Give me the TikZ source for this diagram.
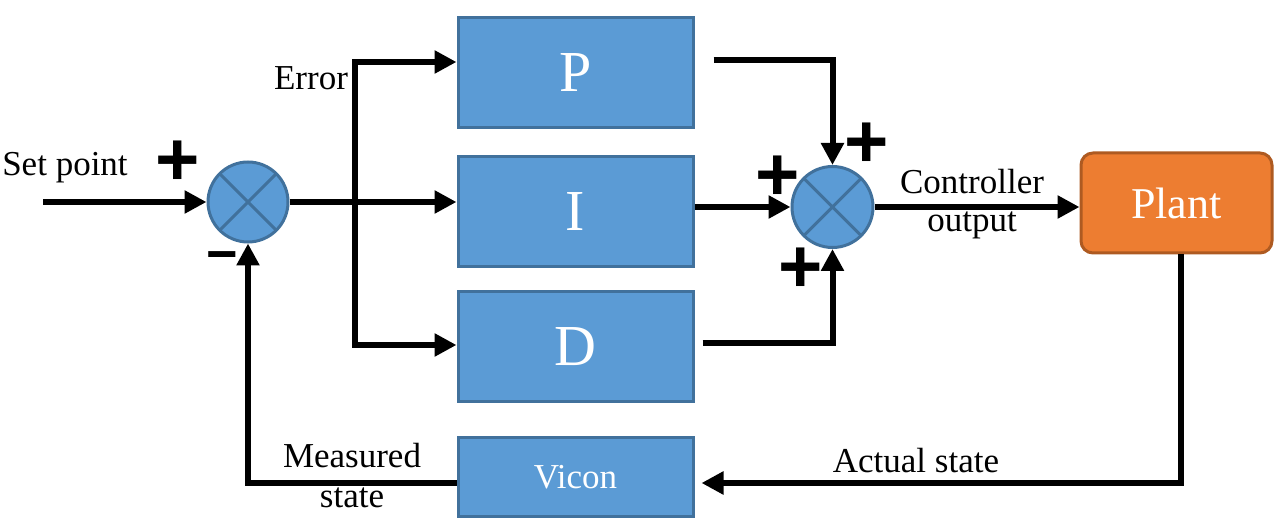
\documentclass[tikz,border=0pt]{standalone}
\usepackage{fontspec}
\setmainfont{Liberation Serif}
\newfontfamily\signfont{Liberation Sans}
\usetikzlibrary{arrows.meta,positioning}
\definecolor{boxblue}{HTML}{5B9BD5}
\definecolor{boxedge}{HTML}{41719C}
\definecolor{plantorange}{HTML}{ED7D31}
\definecolor{plantedge}{HTML}{AE5A21}
\newcommand{\lblfont}{\fontsize{17.5}{21}\selectfont}
\newcommand{\pidfont}{\fontsize{29}{32}\selectfont}

\begin{document}
\begin{tikzpicture}[x=0.5pt,y=-0.5pt,
    blk/.style={draw=boxedge,fill=boxblue,line width=1.5pt,text=white,inner sep=0pt,
        minimum width=117.5pt,minimum height=55pt},
    sumjn/.style={circle,draw=boxedge,fill=boxblue,line width=1.5pt,inner sep=0pt,minimum size=40pt,
        path picture={\draw[boxedge,line width=1.5pt]
            (path picture bounding box.north west)--(path picture bounding box.south east)
            (path picture bounding box.north east)--(path picture bounding box.south west);}},
    wire/.style={line width=3pt,-{Triangle[length=11pt,width=11pt]}},
    lbl/.style={font=\lblfont,inner sep=0pt},
    sign/.style={font=\signfont\bfseries\fontsize{38}{38}\selectfont,inner sep=0pt}]
    \useasboundingbox (0,0) rectangle (1286,529);
    % blocks
    \node[blk,font=\pidfont] (P) at (575.5,73) {P};
    \node[blk,font=\pidfont] (I) at (575.5,212) {I};
    \node[blk,font=\pidfont] (D) at (575.5,347) {D};
    \node[blk,font=\lblfont,minimum height=39.5pt] (vicon) at (575.5,477) {Vicon};
    \node[draw=plantedge,fill=plantorange,line width=1.5pt,rounded corners=6pt,text=white,
        minimum width=95.5pt,minimum height=50pt,font=\fontsize{22}{26}\selectfont] (plant) at (1176.5,203) {Plant};
    \node[sumjn] (s1) at (248,202) {};
    \node[sumjn,minimum size=40.5pt] (s2) at (832.5,207) {};
    \coordinate (sp) at (43,202);
    \coordinate (br) at (355,202);
    % signals
    \draw[wire] (sp) -- (s1.west);
    \draw[wire] (s1.east) -- (s1 -| I.west);
    \draw[wire] (br) |- ([yshift=5.5pt]P.west);
    \draw[wire] (br) |- ([yshift=1pt]D.west);
    \draw[wire] ([xshift=9.5pt,yshift=6.5pt]P.east) -| (s2.north);
    \draw[wire] (I.east |- s2) -- (s2.west);
    \draw[wire] ([xshift=4pt,yshift=2pt]D.east) -| (s2.south);
    \draw[wire] (s2.east) -- (s2 -| plant.west);
    \draw[wire] ([xshift=2pt]plant.south) |- ([xshift=3.5pt,yshift=-3pt]vicon.east);
    \draw[wire] ([yshift=-3pt]vicon.west) -| (s1.south);
    % labels
    \node[lbl] (setpt) at (65,168) {Set point};
    \node[lbl] (err) at (311,78) {Error};
    \node[lbl] (ctrl1) at (972,182) {Controller};
    \node[lbl] (ctrl2) at (972,225) {output};
    \node[lbl] (act) at (916,461) {Actual state};
    \node[lbl] (meas1) at (352,456) {Measured};
    \node[lbl] (meas2) at (352,498) {state};
    \node[sign] (p1) at (178,163) {+};
    \node[sign,font=\signfont\bfseries\fontsize{27}{27}\selectfont] (m1) at (222,262) {−};
    \node[sign] (p2) at (867,145) {+};
    \node[sign] (p3) at (778,178) {+};
    \node[sign] (p4) at (801,270) {+};
\end{tikzpicture}
\end{document}
